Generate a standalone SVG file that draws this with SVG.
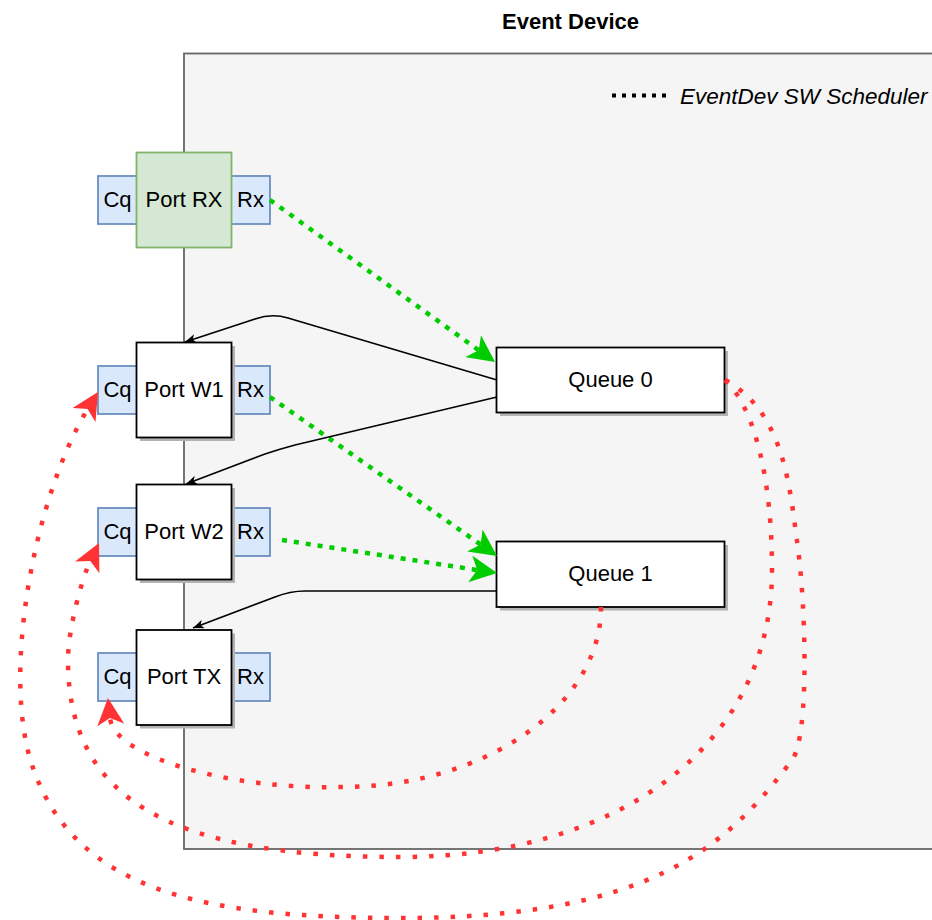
<svg xmlns="http://www.w3.org/2000/svg" width="932" height="920" viewBox="0 0 932 920">
  <style>
    text { font-family: "Liberation Sans", Arial, Helvetica, sans-serif; font-size: 22px; fill: #000; }
    .title { font-weight: bold; text-anchor: middle; }
    .mid { text-anchor: middle; }
    .legend { font-style: italic; font-size: 22.5px; }
    .container { fill: #f5f5f5; stroke: #666666; stroke-width: 1.8; }
    .port { fill: #ffffff; stroke: #000000; stroke-width: 1.8; }
    .port-rx { fill: #d5e8d4; stroke: #82b366; stroke-width: 1.8; }
    .slot { fill: #dae8fc; stroke: #6c8ebf; stroke-width: 1.8; }
    .queue { fill: #ffffff; stroke: #000000; stroke-width: 1.8; }
    .shadow { fill: #b3b3b3; }
    .sched { fill: none; stroke: #ff3333; stroke-width: 4.5; stroke-dasharray: 4.5 12; marker-end: url(#arrowRed); }
    .enq { fill: none; stroke: #00cc00; stroke-width: 4.5; stroke-dasharray: 5 7; marker-end: url(#arrowGreen); }
    .deq { fill: none; stroke: #000000; stroke-width: 1.6; marker-end: url(#arrowBlack); }
  </style>
  <defs>
    <marker id="arrowRed" markerUnits="userSpaceOnUse" viewBox="0 0 27 27" markerWidth="27" markerHeight="27" refX="7" refY="13.5" orient="auto">
      <path d="M0,0 L27,13.5 L0,27 L7,13.5 Z" fill="#ff3333"/>
    </marker>
    <marker id="arrowGreen" markerUnits="userSpaceOnUse" viewBox="0 0 27 27" markerWidth="27" markerHeight="27" refX="7" refY="13.5" orient="auto">
      <path d="M0,0 L27,13.5 L0,27 L7,13.5 Z" fill="#00cc00"/>
    </marker>
    <marker id="arrowBlack" markerUnits="userSpaceOnUse" viewBox="0 0 11 9" markerWidth="11" markerHeight="9" refX="11" refY="4.5" orient="auto">
      <path d="M0,0 L11,4.5 L0,9 L3,4.5 Z" fill="#000000"/>
    </marker>
  </defs>

  <rect width="932" height="920" fill="#ffffff"/>

  <!-- Event device container -->
  <g id="event-device">
    <rect class="container" x="184" y="53.5" width="760" height="795.5"/>
    <text class="title" x="570.5" y="29">Event Device</text>
  </g>

  <!-- Legend -->
  <g id="legend">
    <line x1="612" y1="95.5" x2="668" y2="95.5" stroke="#000000" stroke-width="4" stroke-dasharray="4 6"/>
    <text class="legend" x="680" y="104">EventDev SW Scheduler</text>
  </g>

  <!-- Ports -->
  <g id="port-rx">
    <rect class="slot" x="98" y="176" width="39" height="48"/>
    <rect class="slot" x="231" y="176" width="39" height="48"/>
    <rect class="port-rx" x="136.5" y="152.5" width="95" height="95"/>
    <text class="mid" x="117.5" y="207">Cq</text>
    <text class="mid" x="184" y="207">Port RX</text>
    <text class="mid" x="250.5" y="207">Rx</text>
  </g>

  <g id="port-w1">
    <rect class="slot" x="98" y="366" width="39" height="48"/>
    <rect class="slot" x="231" y="366" width="39" height="48"/>
    <rect class="shadow" x="140" y="346" width="95" height="95"/>
    <rect class="port" x="136.5" y="342.5" width="95" height="95"/>
    <text class="mid" x="117.5" y="397">Cq</text>
    <text class="mid" x="184" y="397">Port W1</text>
    <text class="mid" x="250.5" y="397">Rx</text>
  </g>

  <g id="port-w2">
    <rect class="slot" x="98" y="508" width="39" height="48"/>
    <rect class="slot" x="231" y="508" width="39" height="48"/>
    <rect class="shadow" x="140" y="488" width="95" height="95"/>
    <rect class="port" x="136.5" y="484.5" width="95" height="95"/>
    <text class="mid" x="117.5" y="539">Cq</text>
    <text class="mid" x="184" y="539">Port W2</text>
    <text class="mid" x="250.5" y="539">Rx</text>
  </g>

  <g id="port-tx">
    <rect class="slot" x="98" y="653" width="39" height="48"/>
    <rect class="slot" x="231" y="653" width="39" height="48"/>
    <rect class="shadow" x="140" y="633.5" width="95" height="95"/>
    <rect class="port" x="136.5" y="630" width="95" height="95"/>
    <text class="mid" x="117.5" y="684">Cq</text>
    <text class="mid" x="184" y="684">Port TX</text>
    <text class="mid" x="250.5" y="684">Rx</text>
  </g>

  <!-- Queues -->
  <g id="queue-0">
    <rect class="shadow" x="500" y="351" width="228" height="65"/>
    <rect class="queue" x="496.5" y="347.5" width="228" height="65"/>
    <text class="mid" x="610.5" y="387">Queue 0</text>
  </g>

  <g id="queue-1">
    <rect class="shadow" x="500" y="545" width="228" height="65.5"/>
    <rect class="queue" x="496.5" y="541.5" width="228" height="65.5"/>
    <text class="mid" x="610.5" y="581">Queue 1</text>
  </g>

  <!-- Connectors -->
  <g id="connectors">
    <!-- enqueue from port Rx to queues -->
    <path class="enq" d="M270,200 L478.8,350.3"/>
    <path class="enq" d="M270,397 L480.6,544.5"/>
    <path class="enq" d="M282,540 L477.2,570"/>

    <!-- dequeue from queues to ports -->
    <path class="deq" d="M497,380 L288,318 Q272,313 255,319 L185,342"/>
    <path class="deq" d="M497,397 L295,445 Q280,449 265,454 L186,484"/>
    <path class="deq" d="M497,591 L305,591 Q290,591 275,597 L193,628"/>

    <!-- scheduler completions back to port Cq -->
    <path class="sched" d="M601,607 C601,706 485,787 342,787 C230,790 114,757 110,718"/>
    <path class="sched" d="M725,380 C755,408 772,480 772,570 C772,742 624,857 400,857 C168,857 68,798 68,660 C68,630 81.6,579 90.3,561"/>
    <path class="sched" d="M725,380 C785,412 790,491 797,541 C805.7,600.4 810,736 792,760 C726,848 650,918 400,918 C200,918 76,890 33,768 C0,674 35.6,494.6 87.6,409.1"/>
  </g>
</svg>
